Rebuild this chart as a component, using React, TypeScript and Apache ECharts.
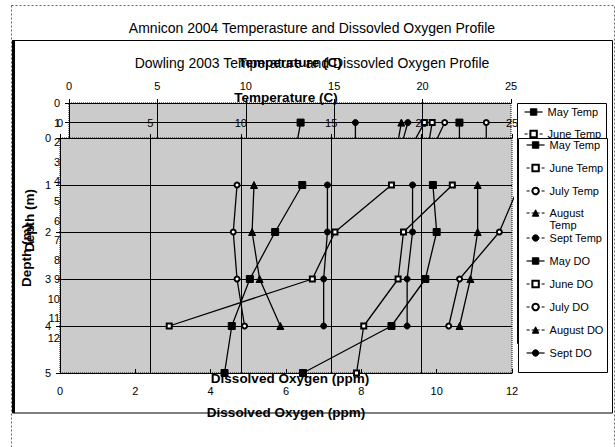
import React, { useEffect, useRef } from "react";
import * as echarts from "echarts";

const FONT = "'Liberation Sans', Arial, Helvetica, sans-serif";
const BLACK = "#000000";
const PLOT_GREY = "#cbcbcb";

// Axis ranges (min, max, step)
const tempAxis = [0, 25, 5];
const doAxis = [0, 12, 2];
const amniconDepthAxis = [0, 12, 1];
const dowlingDepthAxis = [0, 5, 1];

const seriesNames = [
  "May Temp",
  "June Temp",
  "July Temp",
  "August Temp",
  "Sept Temp",
  "May DO",
  "June DO",
  "July DO",
  "August DO",
  "Sept DO",
];

// Dowling 2003 profile: sampling depth (m), temperature (C), dissolved oxygen (ppm)
const dowlingDepths = [1, 2, 3, 4, 5];
const dowlingMayTemp = [13.4, 11.9, 10.5, 9.5, 9.1];
const dowlingJuneTemp = [21.7, 19.0, 18.7, 16.8, 16.4];
const dowlingJulyTemp = [25.4, 24.3, 22.1, 21.5];
const dowlingAugTemp = [23.1, 23.1, 22.7, 22.1];
const dowlingSeptTemp = [19.5, 19.5, 19.2, 19.2];
const dowlingMayDO = [9.9, 10.0, 9.7, 8.8, 6.45];
const dowlingJuneDO = [8.8, 7.3, 6.7, 2.9];
const dowlingJulyDO = [4.7, 4.6, 4.7, 4.9];
const dowlingAugDO = [5.15, 5.1, 5.3, 5.85];
const dowlingSeptDO = [7.1, 7.1, 7.0, 7.0];

// Amnicon 2004 profile
const amniconDepths = [1, 2];
const amniconMayTemp = [13.1, 12.9];
const amniconJuneTemp = [20.1, 19.5];
const amniconJulyTemp = [23.6, 23.6];
const amniconAugTemp = [18.8, 18.6];
const amniconSeptTemp = [16.2, 16.2];
const amniconMayDO = [10.6, 10.6];
const amniconJuneDO = [9.86, 9.77];
const amniconJulyDO = [10.2, 9.95];
const amniconAugDO: number[] = [];
const amniconSeptDO = [9.2, 9.05];

const dowlingValues = [
  dowlingMayTemp, dowlingJuneTemp, dowlingJulyTemp, dowlingAugTemp, dowlingSeptTemp,
  dowlingMayDO, dowlingJuneDO, dowlingJulyDO, dowlingAugDO, dowlingSeptDO,
];
const amniconValues = [
  amniconMayTemp, amniconJuneTemp, amniconJulyTemp, amniconAugTemp, amniconSeptTemp,
  amniconMayDO, amniconJuneDO, amniconJulyDO, amniconAugDO, amniconSeptDO,
];

// marker per month
const monthSymbols: Record<string, [string, number]> = {
  May: ["rect", 7],
  June: ["emptyRect", 5],
  July: ["emptyCircle", 5],
  August: ["triangle", 7],
  Sept: ["circle", 6],
};
const dashedLegendItems = [
  "June Temp", "July Temp", "August Temp", "Sept Temp", "June DO", "July DO", "August DO",
];

function toPoints(values: number[], depths: number[]) {
  return values.map((v, i) => [v, depths[i]]);
}

function buildSeries(
  values: number[][],
  depths: number[],
  tempAxisIndex: number,
  doAxisIndex: number,
  yAxisIndex: number,
  z: number
) {
  return seriesNames.map((name, i) => {
    const month = name.split(" ")[0];
    const [symbol, size] = monthSymbols[month];
    return {
      type: "line",
      name,
      xAxisIndex: i < 5 ? tempAxisIndex : doAxisIndex,
      yAxisIndex,
      data: toPoints(values[i], depths),
      symbol,
      symbolSize: size,
      showSymbol: true,
      clip: true,
      z,
      silent: true,
      emphasis: { disabled: true },
      lineStyle: { color: BLACK, width: 1.3 },
      itemStyle: { color: BLACK, borderColor: BLACK, borderWidth: 1 },
    };
  });
}

function legendData() {
  return seriesNames.map((name) =>
    dashedLegendItems.includes(name) ? { name, lineStyle: { type: [3, 2] } } : { name }
  );
}

// the long "August Temp" entry wraps onto two lines, first line level with the marker
const wrapLegendName = (name: string) => (name === "August Temp" ? "\nAugust\nTemp" : name);

const legendText = { fontSize: 11, color: BLACK, fontFamily: FONT, lineHeight: 13 };
const legendBase = {
  orient: "vertical",
  itemWidth: 18,
  itemHeight: 8,
  padding: 0,
  selectedMode: false,
  textStyle: legendText,
  lineStyle: { width: 1.2 },
  itemStyle: { borderWidth: 1 },
  formatter: wrapLegendName,
};

const labelStyle = { fontSize: 11, color: BLACK, fontFamily: FONT };
const nameStyle = { fontSize: 13.5, fontWeight: "bold", color: BLACK, fontFamily: FONT };
const blackLine = { color: BLACK, width: 1 };

function buildOption() {
  const legendNames = legendData();
  return {
    animation: false,
    backgroundColor: "#ffffff",
    textStyle: { fontFamily: FONT },
    title: [
      {
        text: "Amnicon 2004 Temperasture and Dissovled Oxygen Profile",
        left: 312,
        top: 21,
        textAlign: "center",
        padding: 0,
        z: 12,
        textStyle: { fontSize: 14, fontWeight: "normal", color: BLACK, fontFamily: FONT },
      },
      {
        text: "Dowling 2003 Temperature and Dissovled Oxygen Profile",
        left: 312,
        top: 56,
        textAlign: "center",
        padding: 0,
        z: 12,
        textStyle: { fontSize: 14, fontWeight: "normal", color: BLACK, fontFamily: FONT },
      },
    ],
    grid: [
      {
        left: 69, top: 103, width: 442, height: 235,
        show: true, backgroundColor: PLOT_GREY,
        borderColor: BLACK, borderWidth: 1, borderType: "dotted",
        outerBoundsMode: "none", containLabel: false, z: 0,
      },
      {
        left: 60, top: 138, width: 452, height: 235,
        show: true, backgroundColor: PLOT_GREY,
        borderColor: BLACK, borderWidth: 1, borderType: "dotted",
        outerBoundsMode: "none", containLabel: false, z: 3,
      },
    ],
    xAxis: [
      {
        gridIndex: 0, type: "value", position: "top",
        min: tempAxis[0], max: tempAxis[1], interval: tempAxis[2], z: 1,
        name: "Temperature (C)", nameLocation: "middle", nameGap: 34, nameTextStyle: nameStyle,
        axisLine: { show: true, lineStyle: blackLine },
        axisTick: { show: true, inside: false, length: 4, lineStyle: blackLine },
        axisLabel: { ...labelStyle, margin: 12 },
        splitLine: { show: true, showMinLine: false, showMaxLine: false, lineStyle: blackLine },
      },
      {
        gridIndex: 0, type: "value", position: "bottom",
        min: doAxis[0], max: doAxis[1], interval: doAxis[2], z: 6,
        name: "Dissolved Oxygen (ppm)", nameLocation: "middle", nameGap: 33, nameTextStyle: nameStyle,
        axisLine: { show: false }, axisTick: { show: false },
        axisLabel: { show: false }, splitLine: { show: false },
      },
      {
        gridIndex: 1, type: "value", position: "top",
        min: tempAxis[0], max: tempAxis[1], interval: tempAxis[2], z: 4,
        name: "Temperature (C)", nameLocation: "middle", nameGap: 34, nameTextStyle: nameStyle,
        axisLine: { show: true, lineStyle: blackLine },
        axisTick: { show: true, inside: false, length: 4, lineStyle: blackLine },
        axisLabel: { ...labelStyle, margin: 10 },
        splitLine: { show: true, showMinLine: false, showMaxLine: false, lineStyle: blackLine },
      },
      {
        gridIndex: 1, type: "value", position: "bottom",
        min: doAxis[0], max: doAxis[1], interval: doAxis[2], z: 4,
        name: "Dissolved Oxygen (ppm)", nameLocation: "middle", nameGap: 32, nameTextStyle: nameStyle,
        axisLine: { show: true, lineStyle: blackLine },
        axisTick: { show: true, inside: true, length: 4, lineStyle: blackLine },
        axisLabel: { ...labelStyle, margin: 12 },
        splitLine: { show: false },
      },
    ],
    yAxis: [
      {
        gridIndex: 0, type: "value", inverse: true,
        min: amniconDepthAxis[0], max: amniconDepthAxis[1], interval: amniconDepthAxis[2], z: 1,
        name: "Depth (m)", nameLocation: "middle", nameGap: 31, nameTextStyle: nameStyle,
        axisLine: { show: true, lineStyle: blackLine },
        axisTick: { show: true, inside: false, length: 4, lineStyle: blackLine },
        axisLabel: { ...labelStyle, margin: 9 },
        splitLine: { show: true, showMinLine: false, showMaxLine: false, lineStyle: blackLine },
      },
      {
        gridIndex: 1, type: "value", inverse: true,
        min: dowlingDepthAxis[0], max: dowlingDepthAxis[1], interval: dowlingDepthAxis[2], z: 4,
        name: "Depth (m)", nameLocation: "middle", nameGap: 22, nameTextStyle: nameStyle,
        axisLine: { show: true, lineStyle: blackLine },
        axisTick: { show: true, inside: false, length: 4, lineStyle: blackLine },
        axisLabel: { ...labelStyle, margin: 9 },
        splitLine: { show: true, showMinLine: false, showMaxLine: false, lineStyle: blackLine },
      },
    ],
    legend: [
      // Amnicon legend: only its first entries stay uncovered by the Dowling legend
      { ...legendBase, z: 8, left: 524, top: 105.5, itemGap: 9, data: legendNames.slice(0, 2) },
      // Dowling legend
      { ...legendBase, z: 10, left: 526, top: 138.5, itemGap: 10, data: legendNames.slice(0, 3) },
      {
        ...legendBase, z: 10, left: 526, top: 195, itemGap: 10,
        data: legendNames.slice(3, 4),
        textStyle: { ...legendText, lineHeight: 12 },
      },
      { ...legendBase, z: 10, left: 526, top: 231.5, itemGap: 10, data: legendNames.slice(4) },
    ],
    graphic: {
      elements: [
        {
          type: "rect", z: 7, silent: true,
          shape: { x: 517.5, y: 103.5, width: 89, height: 240 },
          style: { fill: "#ffffff", stroke: BLACK, lineWidth: 1 },
        },
        {
          type: "rect", z: 9, silent: true,
          shape: { x: 518.5, y: 138.5, width: 89, height: 234 },
          style: { fill: "#ffffff", stroke: BLACK, lineWidth: 1 },
        },
        {
          type: "rect", z: 11, silent: true,
          shape: { x: 11.5, y: 5.5, width: 603, height: 470 },
          style: { fill: "none", stroke: "#666666", lineWidth: 1, lineDash: [2, 2] },
        },
        {
          type: "rect", z: 11, silent: true,
          shape: { x: 12.5, y: 40.5, width: 600, height: 372.5 },
          style: { fill: "none", stroke: BLACK, lineWidth: 1 },
        },
        {
          type: "line", z: 11, silent: true,
          shape: { x1: 13.5, y1: 40, x2: 13.5, y2: 413 },
          style: { stroke: BLACK, lineWidth: 3 },
        },
      ],
    },
    series: [
      ...buildSeries(amniconValues, amniconDepths, 0, 1, 0, 2),
      ...buildSeries(dowlingValues, dowlingDepths, 2, 3, 1, 5),
    ],
  };
}

export default function App() {
  const ref = useRef<HTMLDivElement | null>(null);

  useEffect(() => {
    if (!ref.current) return;
    const chart = echarts.init(ref.current, undefined, { renderer: "svg" });
    chart.setOption(buildOption() as any);
    return () => {
      chart.dispose();
    };
  }, []);

  return (
    <div
      ref={ref}
      style={{ position: "fixed", left: 0, top: 0, width: 615, height: 447, background: "#ffffff" }}
    />
  );
}
